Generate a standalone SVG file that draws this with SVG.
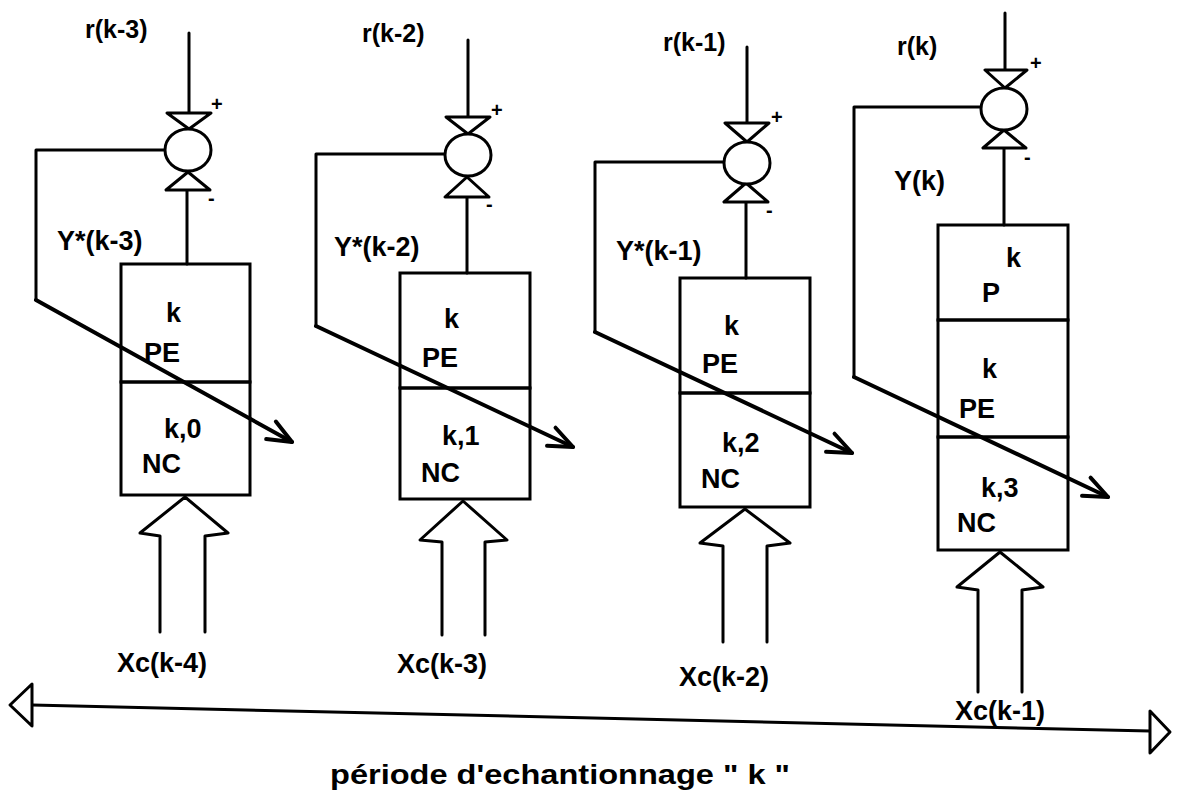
<svg xmlns="http://www.w3.org/2000/svg" width="1178" height="801" viewBox="0 0 1178 801">
<style>
.ln{fill:none;stroke:#000;stroke-width:3;stroke-linejoin:round;stroke-linecap:round}
.bx{fill:none;stroke:#000;stroke-width:3}
.sj{fill:#fff;stroke:#000;stroke-width:3}
.tri{fill:#fff;stroke:#000;stroke-width:3;stroke-linejoin:round}
.dg{fill:none;stroke:#000;stroke-width:4;stroke-linecap:round}
text{font-family:"Liberation Sans",Arial,sans-serif;font-weight:bold;fill:#000}
.t{font-size:27px}
.tr{font-size:25px}
.s{font-size:20px}
</style>
<defs>
<marker id="chev" markerUnits="userSpaceOnUse" markerWidth="60" markerHeight="60" refX="0" refY="0" orient="auto" overflow="visible">
<path d="M -24 -10 L 0 0 L -24 10" fill="none" stroke="#000" stroke-width="4" stroke-linecap="round" stroke-linejoin="round"/>
</marker>
</defs>
<rect width="1178" height="801" fill="#fff"/>

<g id="node1">
<text class="tr" x="85" y="38">r(k-3)</text>
<text class="s" x="211" y="111">+</text>
<text class="s" x="208" y="205">-</text>
<text class="t" x="57" y="250">Y*(k-3)</text>
<rect class="bx" x="121" y="264" width="129" height="118"/>
<rect class="bx" x="121" y="382" width="129" height="113"/>
<text class="t" x="166" y="322">k</text>
<text class="t" x="144" y="362">PE</text>
<text class="t" x="164" y="438">k,0</text>
<text class="t" x="142" y="473">NC</text>
<text class="t" x="117" y="672">Xc(k-4)</text>
</g>

<g id="node2">
<text class="tr" x="362" y="42">r(k-2)</text>
<text class="s" x="491" y="117">+</text>
<text class="s" x="486" y="211">-</text>
<text class="t" x="334" y="256">Y*(k-2)</text>
<rect class="bx" x="400" y="273" width="130" height="115"/>
<rect class="bx" x="400" y="388" width="130" height="111"/>
<text class="t" x="444" y="328">k</text>
<text class="t" x="422" y="367">PE</text>
<text class="t" x="442" y="445">k,1</text>
<text class="t" x="421" y="482">NC</text>
<text class="t" x="397" y="673">Xc(k-3)</text>
</g>

<g id="node3">
<text class="tr" x="663" y="51">r(k-1)</text>
<text class="s" x="771" y="124">+</text>
<text class="s" x="766" y="217">-</text>
<text class="t" x="616" y="260">Y*(k-1)</text>
<rect class="bx" x="680" y="278" width="130" height="115"/>
<rect class="bx" x="680" y="393" width="130" height="114"/>
<text class="t" x="724" y="335">k</text>
<text class="t" x="702" y="373">PE</text>
<text class="t" x="722" y="452">k,2</text>
<text class="t" x="701" y="488">NC</text>
<text class="t" x="679" y="686">Xc(k-2)</text>
</g>

<g id="node4">
<text class="tr" x="897" y="55">r(k)</text>
<text class="s" x="1030" y="70">+</text>
<text class="s" x="1024" y="164">-</text>
<text class="t" x="894" y="190">Y(k)</text>
<rect class="bx" x="938" y="225" width="130" height="95"/>
<rect class="bx" x="938" y="320" width="130" height="117"/>
<rect class="bx" x="938" y="437" width="130" height="113"/>
<text class="t" x="1006" y="267">k</text>
<text class="t" x="982" y="302">P</text>
<text class="t" x="982" y="378">k</text>
<text class="t" x="959" y="418">PE</text>
<text class="t" x="981" y="497">k,3</text>
<text class="t" x="957" y="532">NC</text>
<text class="t" x="955" y="720">Xc(k-1)</text>
</g>

<g id="caption">
<text class="t" x="330" y="784" textLength="460" lengthAdjust="spacingAndGlyphs">période d'echantionnage " k "</text>
</g>

<g id="connectors">
<!-- block 1 -->
<line class="ln" x1="189" y1="33" x2="189" y2="128"/>
<line class="ln" x1="187" y1="172" x2="187" y2="264"/>
<polyline class="ln" points="165,150 36,150 36,300"/>
<line class="dg" x1="36" y1="300" x2="292" y2="442" marker-end="url(#chev)"/>
<polyline class="ln" points="160,632 160,536 140,533 185,497 228,533 205,536 205,632"/>
<polygon class="tri" points="167,113 211,113 189,129"/>
<polygon class="tri" points="166,190 210,190 188,172"/>
<ellipse class="sj" cx="188" cy="150" rx="23" ry="21"/>
<!-- block 2 -->
<line class="ln" x1="468" y1="40" x2="468" y2="133"/>
<line class="ln" x1="467" y1="177" x2="467" y2="273"/>
<polyline class="ln" points="446,154 316,154 316,326"/>
<line class="dg" x1="316" y1="326" x2="573" y2="447" marker-end="url(#chev)"/>
<polyline class="ln" points="442,635 442,542 420,540 463,501 507,540 485,542 485,635"/>
<polygon class="tri" points="446,117 490,117 468,134"/>
<polygon class="tri" points="445,197 489,197 467,177"/>
<ellipse class="sj" cx="468" cy="155" rx="23" ry="21"/>
<!-- block 3 -->
<line class="ln" x1="747" y1="47" x2="747" y2="142"/>
<line class="ln" x1="746" y1="184" x2="746" y2="278"/>
<polyline class="ln" points="724,162 595,162 595,332"/>
<line class="dg" x1="595" y1="332" x2="852" y2="453" marker-end="url(#chev)"/>
<polyline class="ln" points="723,642 723,546 700,543 745,509 790,543 767,546 767,642"/>
<polygon class="tri" points="725,123 769,123 747,142"/>
<polygon class="tri" points="724,202 768,202 746,183"/>
<ellipse class="sj" cx="747" cy="163" rx="23" ry="21"/>
<!-- block 4 -->
<line class="ln" x1="1005" y1="13" x2="1005" y2="88"/>
<line class="ln" x1="1004" y1="130" x2="1004" y2="225"/>
<polyline class="ln" points="982,107 854,107 854,377"/>
<line class="dg" x1="854" y1="377" x2="1108" y2="497" marker-end="url(#chev)"/>
<polyline class="ln" points="978,692 978,590 957,587 1000,552 1043,587 1022,590 1022,692"/>
<polygon class="tri" points="985,70 1027,70 1005,88"/>
<polygon class="tri" points="983,148 1026,148 1004,130"/>
<ellipse class="sj" cx="1004" cy="109" rx="23" ry="21"/>
<!-- period arrow -->
<line class="ln" x1="32" y1="705" x2="1150" y2="731"/>
<polygon class="tri" points="10,705 32,684 32,726"/>
<polygon class="tri" points="1170,732 1150,711 1150,753"/>
</g>
</svg>
